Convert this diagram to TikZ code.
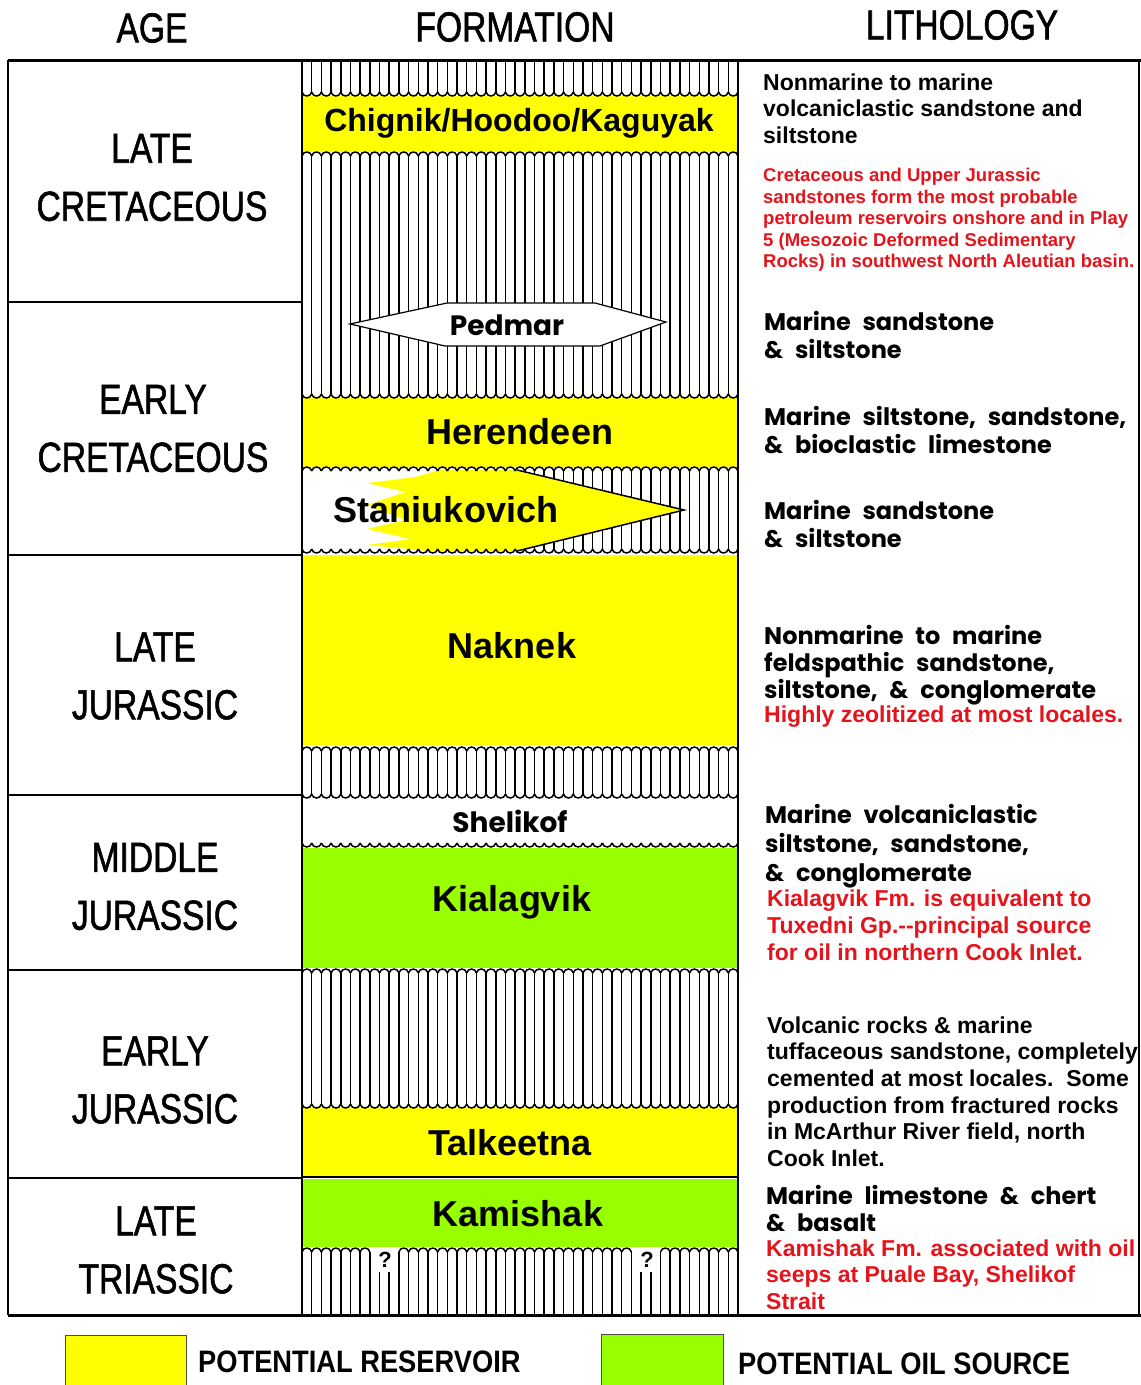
\documentclass[tikz,border=0pt]{standalone}
\usepackage{fontspec}
\setmainfont{Liberation Sans}
\newfontfamily\condf[FakeStretch=0.8,FakeBold=1.3]{Liberation Sans}
\newfontfamily\legf[FakeStretch=0.88]{Liberation Sans}
\newfontfamily\geof[WordSpace=2.3]{Poppins}
\definecolor{resyel}{RGB}{255,255,0}
\definecolor{srcgrn}{RGB}{153,255,0}
\definecolor{notered}{RGB}{228,20,28}
\def\hsp{9.6889}
% vertical hatch lines: k from #1 to #2, from y #3 to y #4
\newcommand\hvlines[4]{\foreach \k in {#1,...,#2} \draw[hl] ({302+\k*\hsp},#3) -- ({302+\k*\hsp},#4);}
% U scallops (hatch above boundary #3)
\newcommand\scU[3]{\draw[hl] \foreach \k in {#1,...,#2} {({302+\k*\hsp},{#3-4}) .. controls +(1,5.3) and +(-1,5.3) .. ({302+(\k+1)*\hsp},{#3-4})};}
% n scallops (hatch below boundary #3)
\newcommand\scN[3]{\draw[hl] \foreach \k in {#1,...,#2} {({302+\k*\hsp},{#3+4}) .. controls +(1,-5.3) and +(-1,-5.3) .. ({302+(\k+1)*\hsp},{#3+4})};}
\begin{document}
\begin{tikzpicture}[x=1pt,y=-1pt,
  hl/.style={line width=1.5pt},
  border/.style={line width=2.2pt},
  hdr/.style={font=\condf\fontsize{42}{42}\selectfont, inner sep=0pt},
  agelbl/.style={font=\condf\fontsize{42}{58}\selectfont, align=center, inner sep=0pt},
  fmlbl/.style={font=\bfseries\fontsize{36}{36}\selectfont, inner sep=0pt},
  geolbl/.style={font=\geof\bfseries\fontsize{28}{28}\selectfont, inner sep=0pt},
  lithtxt/.style={font=\bfseries\fontsize{23}{26.5}\selectfont, align=left, anchor=north west, inner sep=0pt},
  geotxt/.style={font=\geof\bfseries\fontsize{24}{28}\selectfont, align=left, anchor=north west, inner sep=0pt},
  notetxt/.style={text=notered, font=\bfseries\fontsize{23}{26.5}\selectfont, align=left, anchor=north west, inner sep=0pt},
  legtxt/.style={font=\legf\bfseries\fontsize{31}{31}\selectfont, anchor=west, inner sep=0pt}
]
\useasboundingbox (0,0) rectangle (1141,1385);
\fill[white] (0,0) rectangle (1141,1385);

% ---------- headers ----------
\node[hdr] (hAge) at (152,28) {AGE};
\node[hdr] (hForm) at (515,27) {FORMATION};
\node[hdr] (hLith) at (962,25) {LITHOLOGY};

% ---------- coloured units ----------
\fill[resyel] (302,96) rectangle (738,152);
\fill[resyel] (302,398) rectangle (738,467);
\fill[resyel] (302,555) rectangle (738,745);
\fill[srcgrn] (302,848) rectangle (738,968);
\fill[resyel] (302,1108) rectangle (738,1176);
\fill[srcgrn] (302,1179) rectangle (738,1247);

% ---------- hatched units ----------
\hvlines{0}{45}{62}{92}
\scU{0}{44}{96}
\hvlines{0}{45}{156}{394}
\scN{0}{44}{152}
\scU{0}{44}{398}
% Pedmar lens
\filldraw[fill=white, line width=1.2pt] (350,324) -- (447,303) -- (595,303) -- (666,322) -- (600,346) -- (445,346) -- cycle;
% Staniukovich row
\hvlines{22}{45}{471}{549}
\fill[resyel] (440,470) -- (517,470) -- (684,510) -- (517,551) -- (430,551) -- (367,545) -- (410,539) -- (367,529) -- (405,520) -- (367,505) -- (405,492) -- (367,483) -- (415,477) -- cycle;
\draw[line width=1.5pt] (517,470) -- (684,510) -- (517,551);
\scN{0}{44}{467}
\scU{0}{44}{553}
% above Shelikof
\hvlines{0}{45}{751}{794}
\scN{0}{44}{747}
\scU{0}{44}{798}
\scU{0}{44}{847}
% Early Jurassic hatch
\hvlines{0}{45}{973}{1104}
\scN{0}{44}{969}
\scU{0}{44}{1108}
\draw[line width=1.2pt] (302,1177) -- (738,1177);
% Triassic hatch with question marks
\hvlines{0}{7}{1252}{1315}
\hvlines{8}{9}{1272}{1315}
\hvlines{10}{34}{1252}{1315}
\hvlines{35}{36}{1272}{1315}
\hvlines{37}{45}{1252}{1315}
\scN{0}{6}{1248}
\scN{10}{33}{1248}
\scN{37}{44}{1248}
\node[font=\bfseries\fontsize{22}{22}\selectfont, inner sep=0pt] (q1) at (385,1260) {?};
\node[font=\bfseries\fontsize{22}{22}\selectfont, inner sep=0pt] (q2) at (647,1260) {?};

% ---------- frame ----------
\draw[line width=3pt] (8,60) -- (1141,60);
\draw[line width=3pt] (8,1315) -- (1141,1315);
\draw[border] (8,60) -- (8,1315);
\draw[line width=1.5pt] (1139,60) -- (1139,1315);
\draw[line width=1.8pt] (302,60) -- (302,1315);
\draw[line width=1.8pt] (738,60) -- (738,1315);
\foreach \yy in {302,555,795,970,1178} \draw[border] (8,\yy) -- (302,\yy);

% ---------- age labels ----------
\node[agelbl] (a1) at (152,177.5) {LATE\\CRETACEOUS};
\node[agelbl] (a2) at (153,428.5) {EARLY\\CRETACEOUS};
\node[agelbl] (a3) at (155,676) {LATE\\JURASSIC};
\node[agelbl] (a4) at (155,886.5) {MIDDLE\\JURASSIC};
\node[agelbl] (a5) at (155,1080) {EARLY\\JURASSIC};
\node[agelbl] (a6) at (156,1250) {LATE\\TRIASSIC};

% ---------- formation labels ----------
\node[fmlbl, font=\bfseries\fontsize{32}{32}\selectfont] (fChig) at (519,123) {Chignik/Hoodoo/Kaguyak};
\node[geolbl] (fPed) at (507,325) {Pedmar};
\node[fmlbl] (fHer) at (520,432) {Herendeen};
\node[fmlbl] (fSta) at (446,510) {Staniukovich};
\node[fmlbl] (fNak) at (512,646) {Naknek};
\node[geolbl] (fShe) at (510,821) {Shelikof};
\node[fmlbl] (fKia) at (512,902) {Kialagvik};
\node[fmlbl] (fTal) at (510,1143) {Talkeetna};
\node[fmlbl] (fKam) at (518,1214) {Kamishak};

% ---------- lithology ----------
\node[lithtxt] (l1) at (763,73.5) {Nonmarine to marine\\volcaniclastic sandstone and\\siltstone};
\node[notetxt, font=\bfseries\fontsize{18.5}{21.5}\selectfont] (n1) at (763,168.3) {Cretaceous and Upper Jurassic\\sandstones form the most probable\\petroleum reservoirs onshore and in Play\\5 (Mesozoic Deformed Sedimentary\\Rocks) in southwest North Aleutian basin.};
\node[geotxt] (l2) at (764,311) {Marine sandstone\\\& siltstone};
\node[geotxt] (l3) at (764,406) {Marine siltstone, sandstone,\\\& bioclastic limestone};
\node[geotxt] (l4) at (764,500) {Marine sandstone\\\& siltstone};
\node[geotxt, font=\geof\bfseries\fontsize{24}{27}\selectfont] (l5) at (764,625) {Nonmarine to marine\\feldspathic sandstone,\\siltstone, \& conglomerate};
\node[notetxt] (n5) at (764,705.6) {Highly zeolitized at most locales.};
\node[geotxt, font=\geof\bfseries\fontsize{24}{29}\selectfont] (l6) at (765,804) {Marine volcaniclastic\\siltstone, sandstone,\\\& conglomerate};
\node[notetxt, font=\bfseries\fontsize{23}{27}\selectfont] (n6) at (767,889.6) {Kialagvik Fm. is equivalent to\\Tuxedni Gp.-{}-principal source\\for oil in northern Cook Inlet.};
\node[lithtxt, font=\bfseries\fontsize{23}{26.6}\selectfont] (l7) at (767,1016.5) {Volcanic rocks \& marine\\tuffaceous sandstone, completely\\cemented at most locales.\ \ Some\\production from fractured rocks\\in McArthur River field, north\\Cook Inlet.};
\node[geotxt, font=\geof\bfseries\fontsize{24}{27}\selectfont] (l8) at (766,1185) {Marine limestone \& chert\\\& basalt};
\node[notetxt] (n8) at (766,1239.6) {Kamishak Fm. associated with oil\\seeps at Puale Bay, Shelikof\\Strait};

% ---------- legend ----------
\filldraw[fill=resyel, draw=black!70, line width=1pt] (65,1335) rectangle (186,1400);
\node[legtxt] (legRes) at (198,1362) {POTENTIAL RESERVOIR};
\filldraw[fill=srcgrn, draw=black!70, line width=1pt] (601,1334) rectangle (723,1400);
\node[legtxt] (legSrc) at (738,1364) {POTENTIAL OIL SOURCE};
\end{tikzpicture}
\end{document}
